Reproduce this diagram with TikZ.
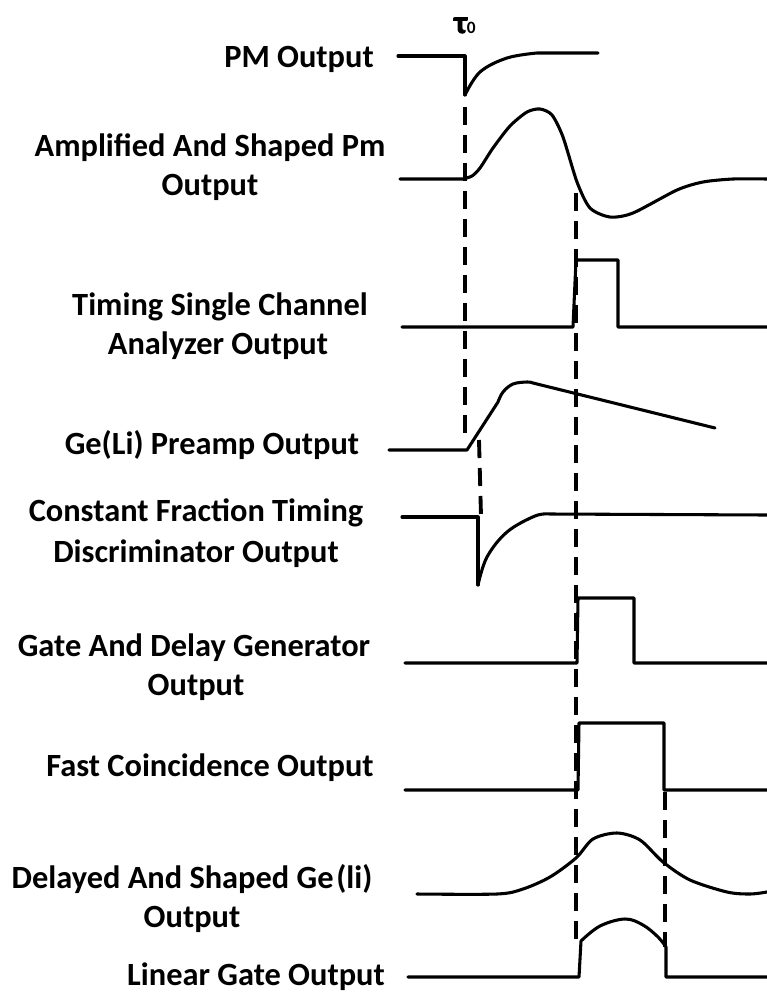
\documentclass[tikz,border=0pt]{standalone}
\usepackage{fontspec}
\setmainfont{Carlito}
\newfontfamily\taufont[FakeBold=3]{Carlito}
\begin{document}
\begin{tikzpicture}[x=0.75pt,y=-0.75pt,
  wave/.style={line width=2.3pt,black,line join=round,line cap=round},
  guide/.style={line width=2.5pt,black,dash pattern=on 13.5pt off 7.5pt},
  lab/.style={font=\bfseries\fontsize{24.3pt}{28pt}\selectfont,anchor=base,inner sep=0pt,text=black}]
\useasboundingbox (0,0) rectangle (767,993);
% labels
\node[lab] (tau) at (465,33) {{\taufont\fontsize{24pt}{26pt}\selectfont τ}\fontsize{13pt}{14pt}\selectfont 0};
\node[lab] (l1) at (299,67) {PM Output};
\node[lab] (l2a) at (210,156) {Amplified And Shaped Pm};
\node[lab] (l2b) at (210,195) {Output};
\node[lab] (l3a) at (220,315) {Timing Single Channel};
\node[lab] (l3b) at (218,354) {Analyzer Output};
\node[lab] (l4) at (212,454) {Ge(Li) Preamp Output};
\node[lab] (l5a) at (196,521) {Constant Fraction Timing};
\node[lab] (l5b) at (196,562) {Discriminator Output};
\node[lab] (l6a) at (194,656) {Gate And Delay Generator};
\node[lab] (l6b) at (196,695) {Output};
\node[lab] (l7) at (210,776) {Fast Coincidence Output};
\node[lab] (l8a) at (192,888) {Delayed And Shaped Ge\kern2pt(li)};
\node[lab] (l8b) at (192,927) {Output};
\node[lab] (l9) at (256,985) {Linear Gate Output};
% guides
\coordinate (g1a) at (465,107); \coordinate (g1b) at (465,436);
\coordinate (g2a) at (576,193); \coordinate (g2b) at (576,945);
\coordinate (g3a) at (479,440); \coordinate (g3b) at (481,516);
\coordinate (g4a) at (665,792); \coordinate (g4b) at (665,947);
\draw[guide] (g1a) -- (g1b);
\draw[guide] (g2a) -- (g2b);
\draw[guide,line width=2.9pt] (g3a) -- (g3b);
\draw[guide] (g4a) -- (g4b);
% waves
\draw[wave] (398,56) -- (465,56) -- (465,95);
\draw[wave] plot[smooth,tension=0.6] coordinates {(465,95) (480,72) (507,58) (537,53)} -- (598,53);
\draw[wave] (400,179) -- (463,179) plot[smooth,tension=0.45] coordinates {(463,179) (472,176) (480,168) (493,148) (510,126) (527,112) (540,109) (552,115) (563,137) (577,182) (590,208) (610,217) (633,213) (677,190) (703,182) (733,179) (767,179)};
\draw[wave] (402,327) -- (573,327) -- (576,260) -- (618,260) -- (618,327) -- (767,327);
\draw[wave] (389,450) -- (467,450) -- (498,402) plot[smooth,tension=0.6] coordinates {(498,402) (503,392) (513,384) (527,382) (533,383)} -- (715,428);
\draw[wave] (402,517) -- (478,517) -- (478,585);
\draw[wave] plot[smooth,tension=0.6] coordinates {(478,585) (487,557) (507,532) (535,516) (550,514)} -- (767,515);
\draw[wave] (405,663) -- (577,663) -- (578,598) -- (634,598) -- (634,663) -- (767,663);
\draw[wave] (405,790) -- (578,790) -- (579,723) -- (664,723) -- (664,790) -- (767,790);
\draw[wave] plot[smooth,tension=0.5] coordinates {(417,894) (497,894) (523,889) (550,877) (576,858) (593,839) (617,833) (640,840) (663,862) (690,880) (727,892) (750,894) (767,892)};
\draw[wave] (408,977) -- (579,977) -- (581,941) plot[smooth,tension=0.6] coordinates {(581,941) (600,926) (625,919) (643,925) (658,937) (666,947)} -- (666,977) -- (767,977);
\end{tikzpicture}
\end{document}
